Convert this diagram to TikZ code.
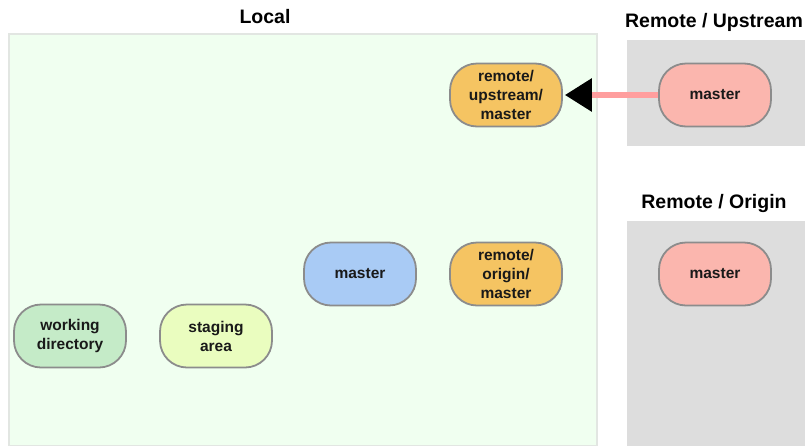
\documentclass[tikz,border=0pt]{standalone}
\usepackage{fontspec}
\setmainfont{Liberation Sans}
\usetikzlibrary{calc, shapes, arrows.meta}
\usepackage{xcolor}

\definecolor{localbg}{HTML}{F0FFF0}
\definecolor{localline}{HTML}{E2E6E2}
\definecolor{remotebg}{HTML}{DDDDDD}
\definecolor{pillline}{HTML}{8C8C8C}
\definecolor{workcol}{HTML}{C5EBC8}
\definecolor{stagecol}{HTML}{EAFDBF}
\definecolor{localcol}{HTML}{A9CBF5}
\definecolor{trackcol}{HTML}{F5C462}
\definecolor{remotecol}{HTML}{FBB6AE}
\definecolor{pushcol}{HTML}{FF9E9E}

\begin{document}
\begin{tikzpicture}[x=1pt, y=-1pt]
			\tikzset{branch/.style={
					rectangle, rounded corners=27pt, draw=pillline, line width=1.8pt,
					minimum width=112pt, minimum height=63pt, align=center,
					text=black!90, font=\bfseries\fontsize{15.5}{19}\selectfont
				}
			}
			\tikzset{area/.style={font=\bfseries\fontsize{19.5}{22}\selectfont}}
			\useasboundingbox (0,0) rectangle (810,445);
			% the three areas
			\draw[fill=localbg, draw=localline, line width=1.5pt] (9,34) rectangle (597,446);
			\fill[remotebg] (627,40) rectangle (805,146);
			\fill[remotebg] (627,221) rectangle (805,446);
			\node[area] (local) at (265,17) {Local};
			\node[area] (upstream) at (714,22) {Remote / Upstream};
			\node[area] (origin) at (714,203) {Remote / Origin};
			% branches
			\node[branch, fill=workcol] (work) at (70,336) {working\\directory};
			\node[branch, fill=stagecol] (stage) at (216,336) {staging\\area};
			\node[branch, fill=localcol] (lmaster) at (360,274) {master};
			\node[branch, fill=trackcol] (omaster) at (506,274) {remote/\\origin/\\master};
			\node[branch, fill=trackcol] (umaster) at (506,95) {remote/\\upstream/\\master};
			\node[branch, fill=remotecol] (upmaster) at (715,95) {master};
			\node[branch, fill=remotecol] (orgmaster) at (715,274) {master};
			\draw[pushcol, line width=6pt, -{Triangle[black, length=27pt, width=32pt]}, shorten >=2pt] (upmaster) -- (umaster);
			\end{tikzpicture}
\end{document}
